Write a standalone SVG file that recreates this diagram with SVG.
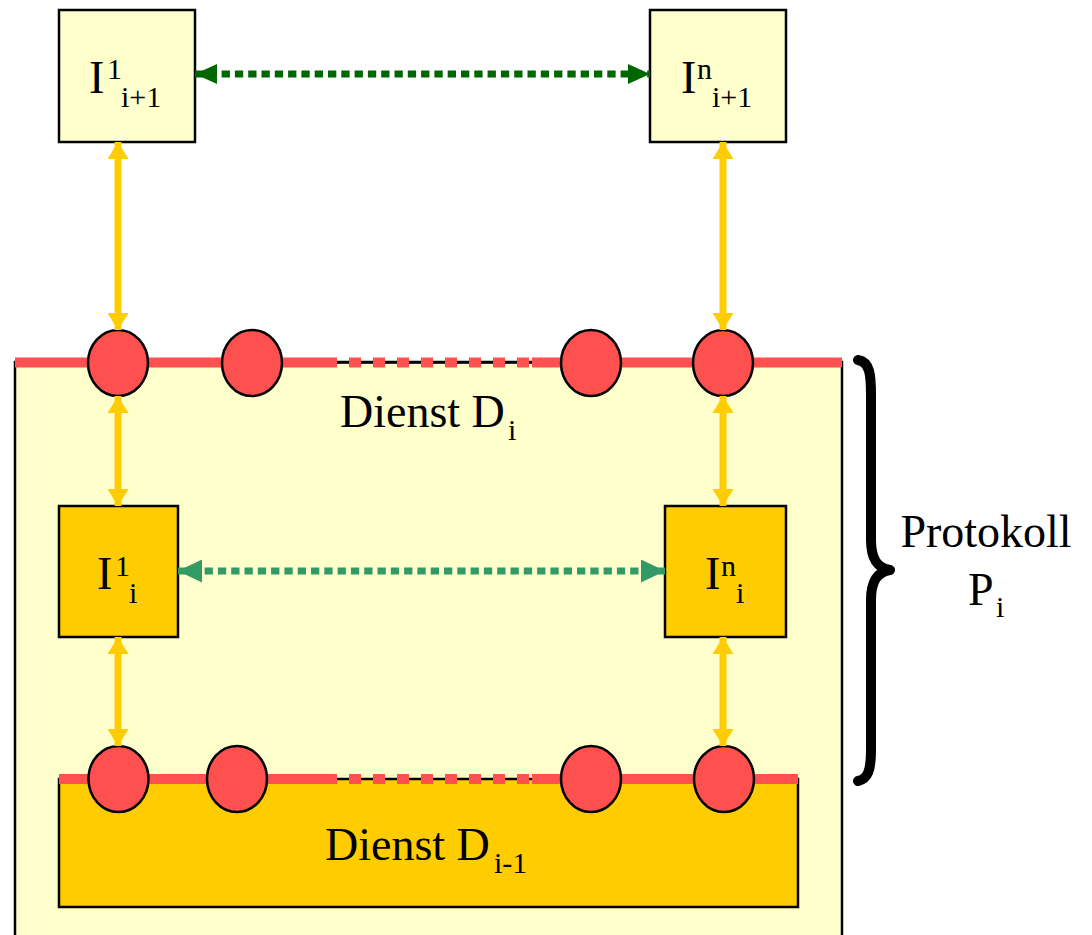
<svg xmlns="http://www.w3.org/2000/svg" width="1092" height="935" viewBox="0 0 1092 935">
<defs>
<style>
.t{font-family:"Liberation Serif","Times New Roman",serif;fill:#000}
.big{font-size:46px}
.sm{font-size:30px}
.pale{fill:#FFFFCC;stroke:#000;stroke-width:2.5}
.gold{fill:#FFCC00;stroke:#000;stroke-width:2.5}
.sap{fill:#FF5050;stroke:#000;stroke-width:2.5}
.redline{stroke:#FF5050;stroke-width:10;fill:none}
.reddash{stroke:#FF5050;stroke-width:10;fill:none;stroke-dasharray:12 12}
.thin{stroke:#000;stroke-width:1.5}
.ya{stroke:#FFCC00;stroke-width:7;fill:none;marker-start:url(#ya);marker-end:url(#ya)}
.g1{stroke:#006600;stroke-width:7;fill:none;stroke-dasharray:8.3 5;marker-start:url(#g1);marker-end:url(#g1)}
.g2{stroke:#339966;stroke-width:7;fill:none;stroke-dasharray:8.3 5;marker-start:url(#g2);marker-end:url(#g2)}
</style>
<marker id="ya" viewBox="0 0 17 21" refX="17" refY="10.5" markerWidth="17" markerHeight="21" markerUnits="userSpaceOnUse" orient="auto-start-reverse"><path d="M0,0 L17,10.5 L0,21 Z" fill="#FFCC00"/></marker>
<marker id="g1" viewBox="0 0 22 20" refX="22" refY="10" markerWidth="22" markerHeight="20" markerUnits="userSpaceOnUse" orient="auto-start-reverse"><path d="M0,0 L22,10 L0,20 Z" fill="#006600"/></marker>
<marker id="g2" viewBox="0 0 24 23" refX="24" refY="11.5" markerWidth="24" markerHeight="23" markerUnits="userSpaceOnUse" orient="auto-start-reverse"><path d="M0,0 L24,11.5 L0,23 Z" fill="#339966"/></marker>
</defs>
<rect width="1092" height="935" fill="#fff"/>

<g id="dienst-i">
<rect class="pale" x="15" y="362" width="827" height="600"/>
<line class="thin" x1="325" y1="363" x2="532" y2="363"/>
<line class="redline" x1="15" y1="362.5" x2="325" y2="362.5"/>
<line class="reddash" x1="325" y1="362.5" x2="532" y2="362.5"/>
<line class="redline" x1="532" y1="362.5" x2="842" y2="362.5"/>
<text class="t big" x="340" y="427">Dienst D</text>
<text class="t sm" x="508" y="440">i</text>
</g>

<g id="dienst-i-1">
<rect class="gold" x="59" y="779" width="739" height="128"/>
<line class="thin" x1="325" y1="779" x2="532" y2="779"/>
<line class="redline" x1="59" y1="779" x2="325" y2="779"/>
<line class="reddash" x1="325" y1="779" x2="532" y2="779"/>
<line class="redline" x1="532" y1="779" x2="798" y2="779"/>
<text class="t big" x="325" y="860">Dienst D</text>
<text class="t sm" x="494" y="873">i-1</text>
</g>

<g id="sap-top">
<ellipse class="sap" cx="118" cy="363" rx="30" ry="33"/>
<ellipse class="sap" cx="252" cy="363" rx="30" ry="33"/>
<ellipse class="sap" cx="591" cy="363" rx="30" ry="33"/>
<ellipse class="sap" cx="723" cy="363" rx="30" ry="33"/>
</g>
<g id="sap-bottom">
<ellipse class="sap" cx="118.5" cy="779" rx="30" ry="33"/>
<ellipse class="sap" cx="237" cy="779" rx="30" ry="33"/>
<ellipse class="sap" cx="591" cy="779" rx="30" ry="33"/>
<ellipse class="sap" cx="724" cy="779" rx="30" ry="33"/>
</g>

<g id="I1-top">
<rect class="pale" x="59" y="10" width="136" height="132"/>
<text class="t big" x="89" y="93">I</text>
<text class="t sm" x="107" y="79">1</text>
<text class="t sm" x="121" y="107">i+1</text>
</g>
<g id="In-top">
<rect class="pale" x="650" y="10" width="136" height="132"/>
<text class="t big" x="681" y="93">I</text>
<text class="t sm" x="697" y="79">n</text>
<text class="t sm" x="712" y="107">i+1</text>
</g>
<g id="I1-mid">
<rect class="gold" x="59" y="506" width="119" height="131"/>
<text class="t big" x="97" y="589">I</text>
<text class="t sm" x="115" y="576">1</text>
<text class="t sm" x="129" y="603">i</text>
</g>
<g id="In-mid">
<rect class="gold" x="665" y="506" width="121" height="131"/>
<text class="t big" x="705" y="589">I</text>
<text class="t sm" x="721" y="576">n</text>
<text class="t sm" x="736" y="603">i</text>
</g>

<g id="protokoll">
<path d="M858,360 C870,362 871,375 871,395 L871,540 C871,560 878,568 890,570 C878,572 871,580 871,600 L871,750 C871,770 868,779 858,781" fill="none" stroke="#000" stroke-width="10" stroke-linecap="round" stroke-linejoin="round"/>
<text class="t big" x="986" y="547" text-anchor="middle">Protokoll</text>
<text class="t big" x="968" y="605">P</text>
<text class="t sm" x="996" y="617">i</text>
</g>

<g id="connectors">
<line class="g1" x1="195" y1="74" x2="650" y2="74"/>
<line class="g2" x1="178" y1="571" x2="665" y2="571"/>
<line class="ya" x1="118" y1="142" x2="118" y2="330"/>
<line class="ya" x1="723" y1="142" x2="723" y2="330"/>
<line class="ya" x1="118" y1="396" x2="118" y2="506"/>
<line class="ya" x1="723" y1="396" x2="723" y2="506"/>
<line class="ya" x1="118" y1="637" x2="118" y2="746"/>
<line class="ya" x1="723" y1="637" x2="723" y2="746"/>
</g>
</svg>
